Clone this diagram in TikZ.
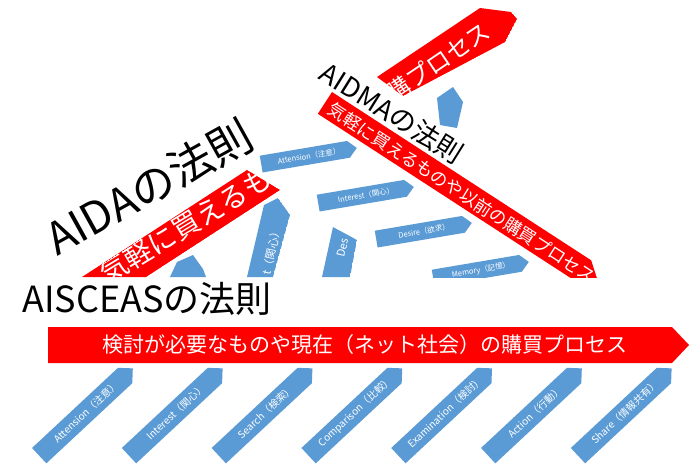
\documentclass[tikz,border=0pt]{standalone}
\usepackage{fontspec}
\setmainfont{Noto Sans CJK JP}
\newcommand{\myfs}[1]{\fontsize{#1}{#1}\selectfont}
% name, cx, cy, angle, length, width, font size, text
\newcommand{\blarrow}[8]{%
  \begin{scope}[shift={(#2,#3)}, rotate=#4]
    \fill[blueshape] ({-#5/2},{-#6/2}) -- ({#5/2-#6/2},{-#6/2}) -- ({#5/2},0)
      -- ({#5/2-#6/2},{#6/2}) -- ({-#5/2},{#6/2}) -- cycle;
    \node[wlabel, transform shape, font=\myfs{#7}] (#1) at (0,0) {#8};
  \end{scope}}
\begin{document}
\begin{tikzpicture}[x=1pt,y=-1pt]
\definecolor{pptred}{RGB}{255,0,0}
\definecolor{pptblue}{RGB}{91,155,213}
\tikzset{
  redshape/.style={fill=pptred, draw=none},
  blueshape/.style={fill=pptblue, draw=none},
  wlabel/.style={text=white, inner sep=0pt},
  blabel/.style={text=black, inner sep=0pt},
}
\useasboundingbox[fill=white] (0,0) rectangle (700,475);

% ================= AIDA (rotated slide, clipped at y=277) =================
\begin{scope}
  \clip (0,0) rectangle (700,277);
  % partly hidden blue arrow tip
  \fill[blueshape] (170,277) -- (177,262) -- (193,255) -- (203,269) -- (206,277) -- cycle;
  % Interest arrow
  \begin{scope}
    \clip (247,277) -- (264,205) -- (278,198) -- (290,215) -- (273,277) -- cycle;
    \fill[blueshape] (247,277) -- (264,205) -- (278,198) -- (290,215) -- (273,277) -- cycle;
    \node[wlabel, rotate=77, anchor=east, font=\myfs{11}] (aidaint) at (277,227) {t（関心）};
  \end{scope}
  % Desire arrow
  \begin{scope}
    \clip (333,227) -- (357,240) -- (350,277) -- (322,277) -- cycle;
    \fill[blueshape] (333,227) -- (357,240) -- (350,277) -- (322,277) -- cycle;
    \node[wlabel, rotate=77, anchor=west, font=\myfs{11}] (aidades) at (341,257) {Des};
  \end{scope}
  % red band
  \begin{scope}
    \clip (82,277) -- (247,170) -- (280,190) -- (146,277) -- cycle;
    \fill[redshape] (82,277) -- (247,170) -- (280,190) -- (146,277) -- cycle;
    \node[wlabel, rotate=31, anchor=west, font=\myfs{28}] (aidared) at (102,276) {気軽に買えるもの};
  \end{scope}
\end{scope}
\node[blabel, rotate=29, font=\myfs{44}] (aidatitle) at (149,187) {AIDAの法則};

% ================= AIDMA (rotated slide, clipped at y=277) =================
\begin{scope}
  \clip (0,0) rectangle (700,277);
  % top red arrow (partly visible)
  \begin{scope}
    \clip (377,77) -- (480,8) -- (511,12) -- (517,19) -- (505,42) -- (403,96) -- cycle;
    \fill[redshape] (377,77) -- (480,8) -- (511,12) -- (517,19) -- (505,42) -- (403,96) -- cycle;
    \node[wlabel, rotate=34, font=\myfs{24}] (aidmatop) at (438,62) {購プロセス};
  \end{scope}
  % blue arrow pointing up (partly visible)
  \fill[blueshape] (437,98) -- (453,87) -- (463,102) -- (457,128) -- (440,125) -- cycle;
  % red band
  \begin{scope}[shift={(332,92)}, rotate=-33]
    \fill[redshape] (0,0) -- (309,0) -- (325,13) -- (309,26) -- (0,26) -- cycle;
    \node[wlabel, transform shape, font=\myfs{17.5}] (aidmared) at (164,14) {気軽に買えるものや以前の購買プロセス};
  \end{scope}
  % step arrows
  \blarrow{aidmaA}{309}{156}{9.6}{97}{17}{7.5}{Attension（注意）}
  \blarrow{aidmaI}{366}{195}{9.6}{97}{17}{7.5}{Interest（関心）}
  \blarrow{aidmaD}{424}{231}{9.6}{97}{17}{7.5}{Desire（欲求）}
  \blarrow{aidmaM}{481}{270}{9.6}{97}{17}{7.5}{Memory（記憶）}
\end{scope}
\node[blabel, rotate=-32, font=\myfs{27}] (aidmatitle) at (392,113) {AIDMAの法則};

% ================= AISCEAS =================
\node[blabel, anchor=base west, font=\myfs{36}] (aisceastitle) at (22,312) {AISCEASの法則};
\fill[redshape] (48,327) -- (672,327) -- (689,345) -- (672,363) -- (48,363) -- cycle;
\node[wlabel, font=\myfs{21}] (aisceasred) at (365,345) {検討が必要なものや現在（ネット社会）の購買プロセス};

\blarrow{sA}{86}{412}{43}{128}{21}{10}{Attension（注意）}
\blarrow{sI}{175.8}{412}{43}{128}{21}{10}{Interest（関心）}
\blarrow{sS}{265.6}{412}{43}{128}{21}{10}{Search（検索）}
\blarrow{sC}{355.4}{412}{43}{128}{21}{10}{Comparison（比較）}
\blarrow{sE}{445.2}{412}{43}{128}{21}{10}{Examination（検討）}
\blarrow{sAc}{535}{412}{43}{128}{21}{10}{Action（行動）}
\blarrow{sSh}{624.8}{412}{43}{128}{21}{10}{Share（情報共有）}
\end{tikzpicture}
\end{document}
